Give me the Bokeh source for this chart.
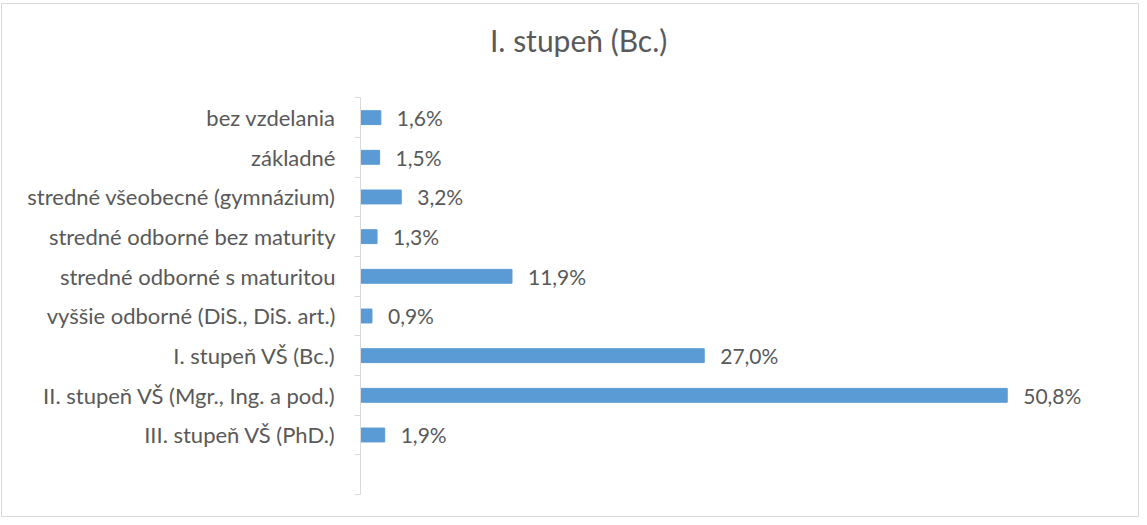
from bokeh.plotting import figure
from bokeh.models import FixedTicker, ColumnDataSource, Range1d
from bokeh.core.properties import value
from bokeh.embed import file_html
from bokeh.resources import INLINE

categories = [
    "bez vzdelania",
    "základné",
    "stredné všeobecné (gymnázium)",
    "stredné odborné bez maturity",
    "stredné odborné s maturitou",
    "vyššie odborné (DiS., DiS. art.)",
    "I. stupeň VŠ (Bc.)",
    "II. stupeň VŠ (Mgr., Ing. a pod.)",
    "III. stupeň VŠ (PhD.)",
]
values = [1.6, 1.5, 3.2, 1.3, 11.9, 0.9, 27.0, 50.8, 1.9]
title_text = "I. stupeň (Bc.)"

FONT = "Lato"
GREY = "#595959"
BAR = "#5B9BD5"
AXIS = "#D9D9D9"

n = len(categories)
slots = n + 1  # one empty slot at the bottom
ypos = [slots - 0.5 - i for i in range(n)]
labels = [f"{v:.1f}".replace(".", ",") + "%" for v in values]

src = ColumnDataSource(dict(y=ypos, v=values, lab=labels))

XMAX = 60.64
YTOP = slots + 2.10   # headroom above the category axis for the chart title
p = figure(width=1138, height=514, output_backend="svg", toolbar_location=None,
           x_range=Range1d(0, XMAX), y_range=Range1d(0, YTOP),
           min_border_left=358, min_border_top=10, min_border_bottom=24,
           min_border_right=8)
p.styles = {"border": "1px solid #D9D9D9", "margin-top": "3px", "margin-left": "1px"}

# chart title in the headroom above the bars
p.text(x=[10.17], y=[slots + 1.46], text=[title_text], text_font=value(FONT),
       text_font_size="30px", text_color=GREY, text_baseline="middle", text_align="left")

p.hbar(y="y", right="v", left=0, height=0.35, source=src, color=BAR)
p.text(x="v", y="y", text="lab", source=src, x_offset=16, text_baseline="middle",
       text_align="left", text_font=value(FONT), text_font_size="21px", text_color=GREY)

p.xaxis.visible = False
p.grid.visible = False
p.outline_line_color = None

ax = p.yaxis[0]
ax.bounds = (0, slots)
ax.ticker = FixedTicker(ticks=ypos, minor_ticks=list(range(0, slots + 1)))
ax.major_label_overrides = {y: c for y, c in zip(ypos, categories)}
ax.major_tick_out = 0
ax.major_tick_in = 0
ax.minor_tick_out = 6
ax.minor_tick_in = 0
ax.minor_tick_line_color = AXIS
ax.axis_line_color = AXIS
ax.major_label_standoff = 19
ax.major_label_text_font = FONT
ax.major_label_text_font_size = "22px"
ax.major_label_text_color = GREY

open("out.html", "w").write(file_html(p, INLINE))
